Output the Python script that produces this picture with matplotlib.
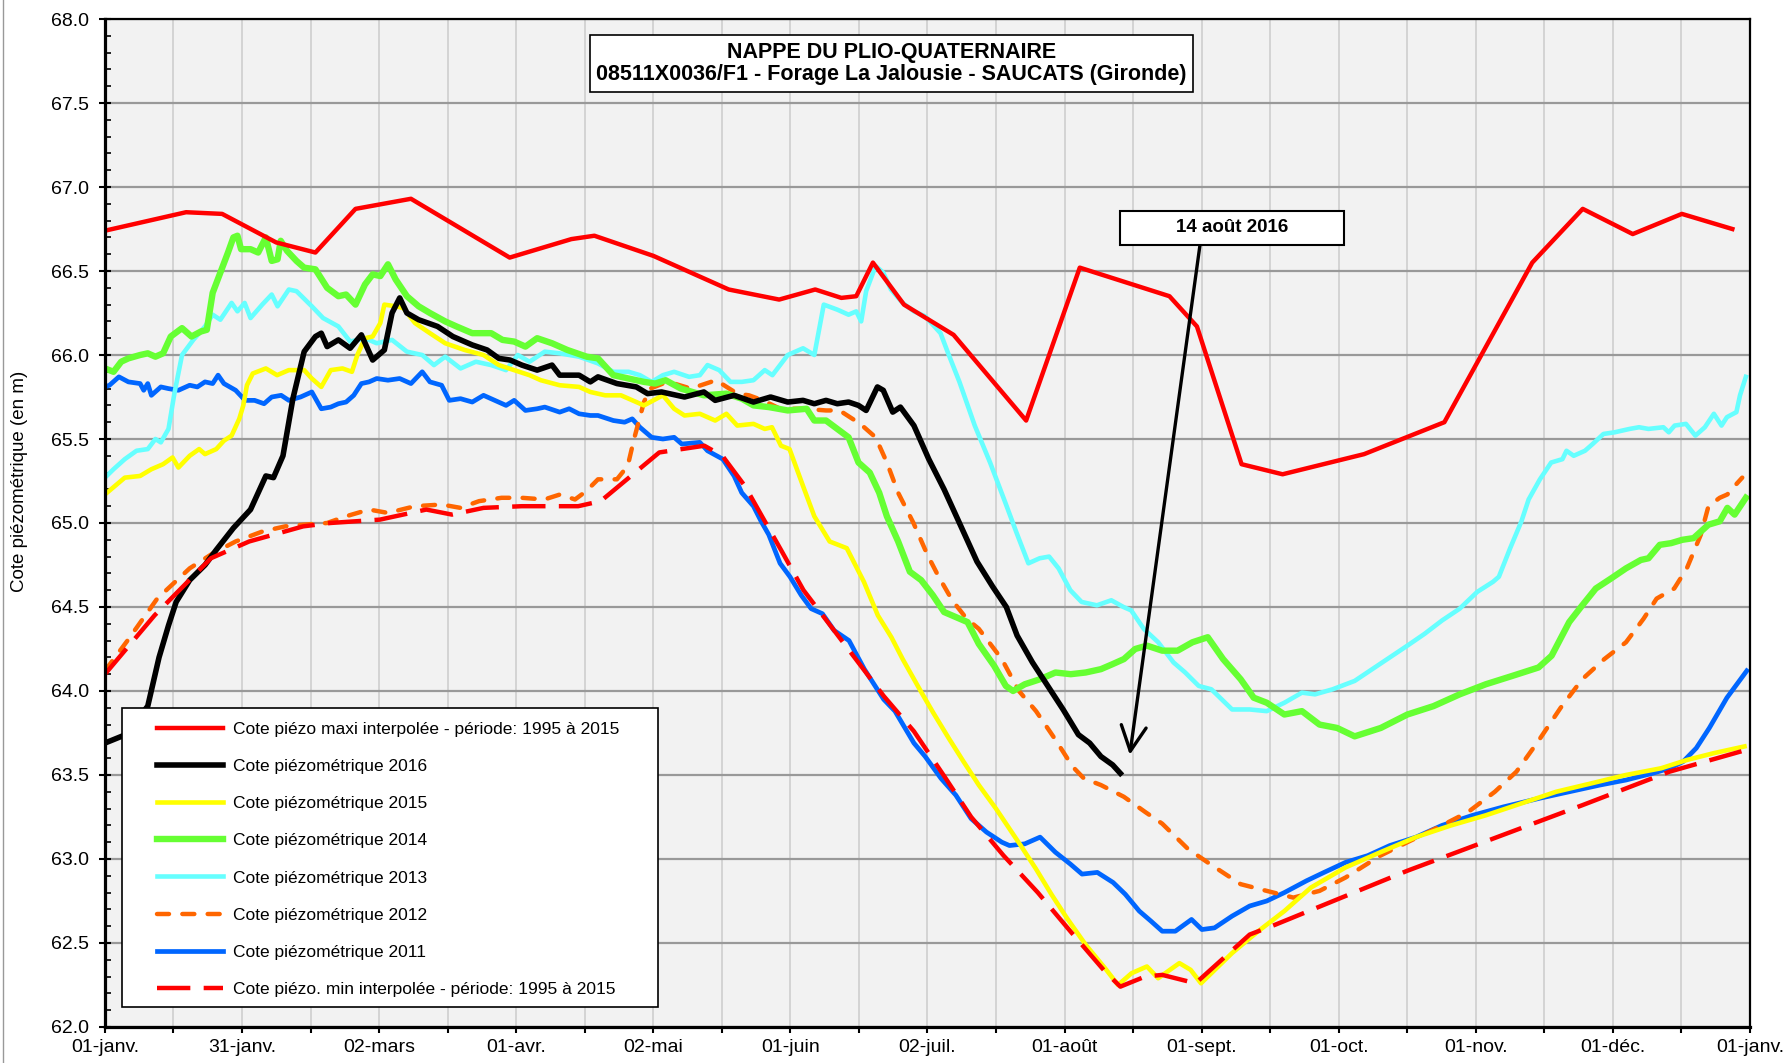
import numpy as np
import matplotlib
matplotlib.use("Agg")
import matplotlib.pyplot as plt
from matplotlib.lines import Line2D
from matplotlib.patches import Rectangle
from matplotlib.ticker import FixedLocator, MultipleLocator

plt.rcParams['font.family'] = ['Liberation Sans', 'DejaVu Sans']

# axis labels
month_labels = ["01-janv.", "31-janv.", "02-mars", "01-avr.", "02-mai", "01-juin", "02-juil.",
                "01-août", "01-sept.", "01-oct.", "01-nov.", "01-déc.", "01-janv."]

# (day of year, level in m NGF)
maxi = [(0, 66.74), (18, 66.85), (26, 66.84), (38, 66.67), (46.7, 66.61), (55.6, 66.87), (67.9, 66.93),
        (89.8, 66.58), (103.5, 66.69), (108.6, 66.71), (121.7, 66.59), (138.4, 66.39), (149.6, 66.33),
        (157.6, 66.39), (163.4, 66.34), (166.7, 66.35), (170.4, 66.55), (177.3, 66.30), (188.3, 66.12),
        (204.4, 65.61), (216.3, 66.52), (236.2, 66.35), (242.3, 66.17), (252.2, 65.35), (261.3, 65.29),
        (279.4, 65.41), (297.2, 65.60), (316.7, 66.55), (327.9, 66.87), (339, 66.72), (349.9, 66.84),
        (361.1, 66.75)]

mini = [(0, 64.10), (11, 64.45), (23.5, 64.79), (32, 64.89), (44, 64.98), (50, 65.00), (61, 65.02),
        (71.3, 65.08), (77, 65.05), (84, 65.09), (92.5, 65.10), (105, 65.10), (110, 65.13), (123, 65.42),
        (128, 65.44), (133, 65.46), (137, 65.40), (142, 65.22), (150, 64.84), (155, 64.60), (161.8, 64.36),
        (172.8, 63.97), (179.5, 63.76), (186.3, 63.49), (192.2, 63.25), (199.4, 63.02), (207, 62.80),
        (214.2, 62.57), (221.9, 62.33), (225.3, 62.24), (230.8, 62.30), (234.6, 62.31), (242, 62.26),
        (254, 62.55), (259.8, 62.61), (289, 62.93), (327.8, 63.32), (347.2, 63.52), (364.3, 63.65)]

y2016 = [(0, 63.69), (4.6, 63.74), (9.5, 63.91), (12, 64.20), (14.1, 64.39), (15.8, 64.53), (18.8, 64.66),
         (22.2, 64.75), (24.7, 64.84), (28.5, 64.97), (32.3, 65.08), (35.7, 65.28), (37.4, 65.27),
         (39.5, 65.40), (41.7, 65.74), (44.2, 66.02), (46.7, 66.11), (48, 66.13), (49.3, 66.05), (51.8, 66.09),
         (54.4, 66.04), (56.9, 66.12), (59.4, 65.97), (62, 66.03), (63.7, 66.25), (65.4, 66.34), (67, 66.25),
         (69.6, 66.21), (73.8, 66.17), (77.2, 66.11), (81.5, 66.06), (84.8, 66.03), (87.4, 65.98),
         (89.9, 65.97), (92.5, 65.94), (95.9, 65.91), (99.2, 65.94), (100.9, 65.88), (105.2, 65.88),
         (107.7, 65.84), (109.4, 65.87), (113.6, 65.83), (117.9, 65.81), (120.4, 65.77), (123.5, 65.78),
         (128.6, 65.75), (132.9, 65.78), (135.4, 65.73), (139.6, 65.76), (143.9, 65.72), (147.7, 65.75),
         (151.5, 65.72), (154.9, 65.73), (157.4, 65.71), (160, 65.73), (162.5, 65.71), (165, 65.72),
         (167.2, 65.70), (168.9, 65.67), (171.4, 65.81), (172.7, 65.79), (174.8, 65.66), (176.5, 65.69),
         (179.5, 65.58), (182.8, 65.38), (186.2, 65.20), (189.6, 65.00), (193.5, 64.77), (197, 64.62),
         (200, 64.50), (202.4, 64.33), (205.8, 64.17), (209.2, 64.03), (212.6, 63.89), (216, 63.74),
         (218.5, 63.69), (221, 63.61), (223.6, 63.56), (225.3, 63.51)]

y2015 = [(0, 65.17), (4.4, 65.27), (7.8, 65.28), (10.3, 65.32), (12.9, 65.35), (15, 65.39), (16.3, 65.33),
         (18.8, 65.40), (20.9, 65.44), (22.2, 65.41), (24.7, 65.44), (26.4, 65.49), (28.1, 65.52),
         (29.8, 65.62), (30.7, 65.70), (31.5, 65.82), (32.8, 65.89), (35.7, 65.92), (38.2, 65.88),
         (40.8, 65.91), (44.2, 65.91), (45.9, 65.86), (48, 65.81), (50.1, 65.91), (52.7, 65.92), (54.8, 65.90),
         (56, 66.00), (57.7, 66.10), (59.4, 66.11), (61.1, 66.19), (62, 66.30), (64.5, 66.29), (66.2, 66.28),
         (68.8, 66.19), (72.1, 66.13), (75.5, 66.07), (79.8, 66.03), (84, 66.00), (87.4, 65.94), (90.8, 65.91),
         (94.2, 65.88), (96.7, 65.85), (100.9, 65.82), (105.2, 65.81), (107.7, 65.78), (111, 65.76),
         (114.5, 65.76), (117.9, 65.72), (119.6, 65.70), (121.7, 65.73), (123.8, 65.76), (126.3, 65.68),
         (128.6, 65.64), (132, 65.65), (135.4, 65.61), (137.9, 65.65), (140.3, 65.58), (143.9, 65.59),
         (146.4, 65.56), (148, 65.57), (150, 65.46), (151.9, 65.44), (154.9, 65.22), (157.4, 65.04),
         (160.8, 64.89), (164.6, 64.85), (168.4, 64.65), (171.5, 64.45), (174.5, 64.32), (177, 64.19),
         (181.2, 63.99), (183.8, 63.87), (187.2, 63.72), (190.5, 63.58), (193.9, 63.44), (197.7, 63.30),
         (200.7, 63.18), (203.2, 63.08), (206.6, 62.94), (210, 62.79), (213.4, 62.65), (217.6, 62.49),
         (221.9, 62.35), (224.8, 62.25), (227.8, 62.32), (231.2, 62.36), (233.7, 62.29), (238.4, 62.38),
         (240.9, 62.34), (243.2, 62.26), (250.1, 62.44), (255.9, 62.57), (261.7, 62.69), (267.6, 62.83),
         (275.3, 62.95), (283, 63.04), (290.9, 63.13), (298.7, 63.20), (306.4, 63.26), (314.2, 63.33),
         (322, 63.40), (329.8, 63.45), (337.5, 63.50), (345.3, 63.54), (351.1, 63.59), (357, 63.63),
         (363.8, 63.67)]

y2014 = [(0, 65.92), (1.9, 65.90), (3.6, 65.96), (5.2, 65.98), (7.8, 66.00), (9.5, 66.01), (11.2, 65.99),
         (12.9, 66.01), (14.6, 66.11), (17.1, 66.16), (19.2, 66.11), (21.3, 66.14), (22.6, 66.15),
         (23.9, 66.37), (25.6, 66.49), (27.3, 66.61), (28.5, 66.70), (29.4, 66.71), (30.2, 66.63),
         (32.3, 66.63), (34, 66.61), (35.7, 66.70), (37, 66.56), (38.3, 66.57), (39, 66.68), (40.4, 66.62),
         (42.5, 66.56), (44.2, 66.52), (46.7, 66.51), (49.3, 66.40), (51.8, 66.35), (53.5, 66.36),
         (55.6, 66.30), (57.7, 66.42), (59.4, 66.48), (61.1, 66.47), (62.8, 66.54), (64.5, 66.45), (67, 66.35),
         (69.6, 66.29), (72.1, 66.25), (75.5, 66.20), (78, 66.17), (81.5, 66.13), (85.7, 66.13), (88.2, 66.09),
         (90.8, 66.08), (93.3, 66.05), (95.9, 66.10), (99.2, 66.07), (102.6, 66.03), (106.9, 65.99),
         (109.4, 65.98), (112.8, 65.88), (116.2, 65.86), (119.6, 65.84), (122.1, 65.83), (124.4, 65.85),
         (127.8, 65.80), (132.9, 65.76), (137.9, 65.77), (141.3, 65.74), (143.9, 65.70), (147.3, 65.69),
         (151.5, 65.67), (155.7, 65.68), (157.4, 65.61), (160, 65.61), (162.5, 65.56), (165, 65.51),
         (167.2, 65.36), (169.7, 65.30), (171.8, 65.18), (173.5, 65.04), (176, 64.89), (178.6, 64.71),
         (181.1, 64.66), (183.7, 64.57), (186.2, 64.47), (188.8, 64.44), (191.4, 64.41), (193.9, 64.28),
         (197.3, 64.15), (199.9, 64.03), (201.5, 64.00), (204.1, 64.04), (207.5, 64.07), (210.9, 64.11),
         (214.3, 64.10), (217.6, 64.11), (221, 64.13), (223.6, 64.16), (226.1, 64.19), (228.6, 64.25),
         (231.2, 64.27), (234.6, 64.24), (238, 64.24), (241.3, 64.29), (244.7, 64.32), (248.1, 64.19),
         (252, 64.07), (254.9, 63.96), (257.8, 63.93), (261.7, 63.86), (265.6, 63.88), (269.5, 63.80),
         (273.4, 63.78), (277.3, 63.73), (283.1, 63.78), (289, 63.86), (294.8, 63.91), (300.6, 63.98),
         (306.4, 64.04), (312.3, 64.09), (318.1, 64.14), (321, 64.21), (324.9, 64.41), (327.8, 64.51),
         (330.8, 64.61), (334.2, 64.67), (337.5, 64.73), (340.8, 64.78), (342.5, 64.79), (345, 64.87),
         (347.5, 64.88), (350, 64.90), (352.5, 64.91), (355.8, 64.99), (358.3, 65.01), (360, 65.09),
         (361.6, 65.05), (364.1, 65.15)]

y2013 = [(0, 65.27), (1.9, 65.32), (4.4, 65.38), (7, 65.43), (9.5, 65.44), (11.2, 65.50), (12.4, 65.48),
         (14.1, 65.56), (15.4, 65.77), (17.1, 66.00), (19.6, 66.09), (22.2, 66.17), (23.9, 66.24),
         (25.6, 66.21), (28.1, 66.31), (29.4, 66.26), (31, 66.31), (32.3, 66.22), (34.9, 66.30), (37, 66.36),
         (38.3, 66.29), (40.8, 66.39), (42.5, 66.38), (45.9, 66.29), (48.4, 66.22), (51.8, 66.17),
         (54.4, 66.08), (57.7, 66.10), (60.3, 66.07), (63.7, 66.09), (67, 66.02), (70.4, 66.00), (73, 65.94),
         (75.5, 65.99), (78.9, 65.92), (82.3, 65.96), (85.7, 65.94), (89, 65.91), (91.6, 66.00), (94.2, 65.96),
         (97.6, 66.02), (100.9, 66.01), (105.2, 65.99), (109.4, 65.95), (112.8, 65.90), (116.2, 65.90),
         (118.7, 65.88), (121.3, 65.84), (123.8, 65.88), (126.3, 65.90), (129.6, 65.87), (132, 65.88),
         (133.7, 65.94), (136.3, 65.91), (138.8, 65.84), (141.3, 65.84), (143.9, 65.85), (146.4, 65.91),
         (148.1, 65.88), (151.5, 66.00), (154.9, 66.04), (157.4, 66.00), (159.5, 66.30), (162.5, 66.27),
         (165, 66.24), (166.7, 66.26), (167.8, 66.20), (168.9, 66.38), (171, 66.53), (172.7, 66.49),
         (174.4, 66.39), (177, 66.31), (179.5, 66.26), (182, 66.23), (185.4, 66.13), (187.1, 66.01),
         (189.6, 65.84), (193, 65.58), (196.4, 65.36), (199.8, 65.12), (202.3, 64.94), (204.9, 64.76),
         (207.4, 64.79), (209.5, 64.80), (211.6, 64.73), (214.2, 64.60), (216.7, 64.53), (220.1, 64.51),
         (223.3, 64.54), (226, 64.50), (227.7, 64.48), (230.5, 64.37), (233.7, 64.29), (237.1, 64.17),
         (239.7, 64.11), (242.7, 64.03), (245.5, 64.01), (250.1, 63.89), (254, 63.89), (257.8, 63.88),
         (261.7, 63.93), (265.6, 63.99), (268.5, 63.98), (272.4, 64.01), (277.3, 64.06), (281.2, 64.13),
         (285.1, 64.20), (289, 64.27), (292.8, 64.34), (296.7, 64.42), (300.6, 64.49), (304.5, 64.59),
         (308, 64.65), (309.3, 64.68), (311.8, 64.85), (314.3, 65.01), (315.9, 65.14), (318.4, 65.26),
         (320.9, 65.36), (323.4, 65.38), (324.3, 65.43), (325.9, 65.40), (328.4, 65.43), (330.1, 65.47),
         (332.5, 65.53), (335, 65.54), (338.3, 65.56), (340.4, 65.57), (342.5, 65.56), (345.8, 65.57),
         (347, 65.54), (348.3, 65.58), (350.8, 65.59), (352.9, 65.52), (355, 65.57), (357, 65.65),
         (358.7, 65.58), (359.9, 65.63), (362, 65.66), (362.8, 65.76), (364.1, 65.87)]

y2012 = [(0, 64.12), (5, 64.30), (11.6, 64.55), (18.8, 64.73), (24, 64.82), (29, 64.89), (35, 64.95),
         (40, 64.98), (44, 64.99), (49.3, 65.00), (53.5, 65.04), (58.6, 65.08), (62.8, 65.06), (68.8, 65.10),
         (74.7, 65.11), (78.9, 65.09), (83, 65.13), (88, 65.15), (92.5, 65.15), (97.5, 65.14), (101, 65.17),
         (104.3, 65.14), (106.8, 65.19), (109.4, 65.26), (113.6, 65.26), (116, 65.34), (117.4, 65.50),
         (119.6, 65.72), (121, 65.80), (123.8, 65.83), (126.3, 65.83), (130, 65.80), (135.6, 65.85),
         (140.3, 65.77), (142.9, 65.76), (146, 65.73), (149.8, 65.68), (154.9, 65.68), (160, 65.67),
         (163, 65.67), (167.6, 65.59), (171, 65.51), (173.5, 65.36), (176, 65.18), (179.4, 65.00),
         (182.5, 64.81), (185, 64.68), (188, 64.54), (191.2, 64.43), (193.9, 64.37), (199, 64.19),
         (202.8, 64.00), (206.6, 63.88), (210.9, 63.71), (214.7, 63.55), (217.2, 63.48), (221, 63.44),
         (226.1, 63.37), (230.8, 63.28), (234.6, 63.21), (240.3, 63.06), (245.2, 62.97), (252, 62.85),
         (257.8, 62.81), (263.7, 62.77), (269.5, 62.81), (275.3, 62.89), (283, 63.02), (289, 63.10),
         (296.7, 63.20), (302.5, 63.28), (308.4, 63.40), (313.2, 63.52), (318, 63.70), (323, 63.90),
         (327.8, 64.07), (332.7, 64.19), (337.5, 64.29), (341.4, 64.43), (344.3, 64.55), (348.2, 64.61),
         (351, 64.73), (354.1, 64.93), (355.8, 65.10), (358.3, 65.15), (360, 65.17), (361.6, 65.22),
         (363.3, 65.27)]

y2011 = [(0, 65.81), (1, 65.82), (3.1, 65.87), (5.2, 65.84), (7.8, 65.83), (8.6, 65.79), (9.5, 65.83),
         (10.3, 65.76), (12.4, 65.81), (14.1, 65.80), (16.3, 65.79), (18.8, 65.82), (20.5, 65.81),
         (22.2, 65.84), (23.9, 65.83), (25.1, 65.88), (26.4, 65.83), (29, 65.79), (31.1, 65.73), (33.2, 65.73),
         (35.3, 65.71), (37, 65.75), (39.1, 65.76), (40.8, 65.73), (43.4, 65.75), (45.9, 65.78), (48, 65.68),
         (50.1, 65.69), (51.8, 65.71), (53.5, 65.72), (55.2, 65.76), (56.9, 65.83), (58.6, 65.84),
         (60.3, 65.86), (62.8, 65.85), (65.4, 65.86), (67.9, 65.83), (70.4, 65.90), (72.1, 65.84),
         (74.7, 65.82), (76.4, 65.73), (78.9, 65.74), (81.5, 65.72), (84, 65.76), (86.5, 65.73), (89, 65.70),
         (90.8, 65.73), (93.3, 65.67), (95.9, 65.68), (97.6, 65.69), (100.9, 65.66), (103, 65.68),
         (105.2, 65.65), (107.7, 65.64), (109.4, 65.64), (112.8, 65.61), (115.3, 65.60), (117, 65.62),
         (118.7, 65.57), (121.3, 65.51), (123.8, 65.50), (126.3, 65.51), (128, 65.47), (132, 65.48),
         (133.7, 65.43), (137.1, 65.38), (139.6, 65.28), (141.3, 65.18), (143.9, 65.10), (145.6, 65.01),
         (147.3, 64.93), (149.8, 64.76), (152, 64.68), (154.5, 64.57), (156.7, 64.49), (159.2, 64.46),
         (161.8, 64.36), (165.1, 64.30), (168.5, 64.13), (172.8, 63.95), (175.3, 63.88), (179.5, 63.69),
         (182, 63.61), (185.5, 63.48), (188.8, 63.38), (192.2, 63.24), (195.6, 63.16), (199, 63.10),
         (200.7, 63.08), (204.1, 63.09), (207.5, 63.13), (210.9, 63.04), (214.2, 62.97), (216.8, 62.91),
         (220.2, 62.92), (223.7, 62.86), (226.4, 62.79), (229.5, 62.69), (232.1, 62.63), (234.6, 62.57),
         (237.5, 62.57), (241.1, 62.64), (243.4, 62.58), (246.2, 62.59), (250.1, 62.66), (254, 62.72),
         (257.8, 62.75), (261.7, 62.80), (266.6, 62.87), (270.5, 62.92), (275.3, 62.98), (280.2, 63.02),
         (285.1, 63.08), (290.9, 63.13), (296.7, 63.20), (303.5, 63.26), (310.3, 63.31), (318.1, 63.36),
         (324.9, 63.40), (331.7, 63.44), (337.5, 63.47), (343.4, 63.51), (347.2, 63.54), (350.2, 63.58),
         (353.1, 63.66), (356, 63.78), (359.9, 63.96), (364.3, 64.12)]

annot_day = 227.4   # 14 août 2016
annot_level = 63.62


def xy(series):
    a = np.array(series)
    return a[:, 0], a[:, 1]


fig = plt.figure(figsize=(17.88, 10.63), dpi=100)
ax = fig.add_axes([0.0587, 0.0339, 0.9200, 0.9482])
ax.set_facecolor("#f2f2f2")

h_blue, = ax.plot(*xy(y2011), color="#0066ff", lw=3.4, solid_joinstyle="round")
h_orange, = ax.plot(*xy(y2012), color="#ff6600", lw=3.2, dashes=(2.7, 3.0), dash_capstyle="round")
h_cyan, = ax.plot(*xy(y2013), color="#66ffff", lw=3.3, solid_joinstyle="round")
h_green, = ax.plot(*xy(y2014), color="#66ff33", lw=4.6, solid_joinstyle="round")
h_yellow, = ax.plot(*xy(y2015), color="#ffff00", lw=3.3, solid_joinstyle="round")
h_black, = ax.plot(*xy(y2016), color="black", lw=4.0, solid_joinstyle="round")
h_max, = ax.plot(*xy(maxi), color="#ff0000", lw=3.2)
h_min, = ax.plot(*xy(mini), color="#ff0000", lw=3.2, dashes=(7.5, 3.0))

ax.set_xlim(0, 365)
ax.set_ylim(62, 68)
step = 365 / 12
ax.xaxis.set_major_locator(FixedLocator([i * step for i in range(13)]))
ax.xaxis.set_minor_locator(FixedLocator([(i + 0.5) * step for i in range(12)]))
ax.set_xticklabels(month_labels)
ax.yaxis.set_major_locator(MultipleLocator(0.5))
ax.yaxis.set_minor_locator(MultipleLocator(0.1))
ax.yaxis.set_major_formatter(matplotlib.ticker.FormatStrFormatter("%.1f"))

ax.set_axisbelow(True)
ax.grid(axis="y", which="major", color="#999999", lw=1.6)
ax.grid(axis="x", which="both", color="#cccccc", lw=1.1)

for side in ["left", "bottom"]:
    ax.spines[side].set_linewidth(2.3)
for side in ["top", "right"]:
    ax.spines[side].set_linewidth(1.6)

ax.tick_params(axis="y", which="major", direction="inout", length=9, width=1.5, labelsize=14, pad=7)
ax.tick_params(axis="y", which="minor", direction="in", length=4, width=1.2)
ax.tick_params(axis="x", which="both", direction="out", length=4, width=1.5)
ax.tick_params(axis="x", which="major", labelsize=14, pad=5)

fig.text(20 / 1788, 0.5475, "Cote piézométrique (en m)", rotation=90, ha="center", va="center", fontsize=13.5)
fig.add_artist(Line2D([3 / 1788, 3 / 1788], [0, 1], color="#999999", lw=1, transform=fig.transFigure))

# title box
ax.text(0.478, 0.956, "NAPPE DU PLIO-QUATERNAIRE\n08511X0036/F1 - Forage La Jalousie - SAUCATS (Gironde)",
        transform=ax.transAxes, ha="center", va="center", multialignment="center",
        fontsize=15.5, fontweight="bold", linespacing=1.1, zorder=10,
        bbox=dict(boxstyle="square,pad=0.3", fc="white", ec="black", lw=1.2))

# annotation
ax.annotate("", xy=(annot_day, annot_level), xytext=(243.0, 66.66),
            arrowprops=dict(arrowstyle="->,head_length=0.9,head_width=0.45", lw=2.4, color="black",
                            mutation_scale=20, shrinkA=0, shrinkB=0), zorder=9)
ax.add_patch(Rectangle((0.617, 0.776), 0.136, 0.0335, transform=ax.transAxes,
                       fc="white", ec="black", lw=1.5, zorder=10))
ax.text(0.685, 0.7928, "14 août 2016", transform=ax.transAxes, ha="center", va="center",
        fontsize=13.5, fontweight="bold", zorder=11)

# legend
ax.add_patch(Rectangle((0.0103, 0.0198), 0.3257, 0.2967, transform=ax.transAxes,
                       fc="white", ec="black", lw=1.2, zorder=7))
handles = [h_max, h_black, h_yellow, h_green, h_cyan, h_orange, h_blue, h_min]
labels = ["Cote piézo maxi interpolée - période: 1995 à 2015",
          "Cote piézométrique 2016",
          "Cote piézométrique 2015",
          "Cote piézométrique 2014",
          "Cote piézométrique 2013",
          "Cote piézométrique 2012",
          "Cote piézométrique 2011",
          "Cote piézo. min interpolée - période: 1995 à 2015"]
leg = ax.legend(handles, labels, loc="upper left", bbox_to_anchor=(0.0316, 0.303), frameon=False,
                borderpad=0, borderaxespad=0, handlelength=3.8, handletextpad=0.6, labelspacing=1.27,
                fontsize=12.5)
leg.set_zorder(8)

fig.savefig("out.png", dpi=100)
